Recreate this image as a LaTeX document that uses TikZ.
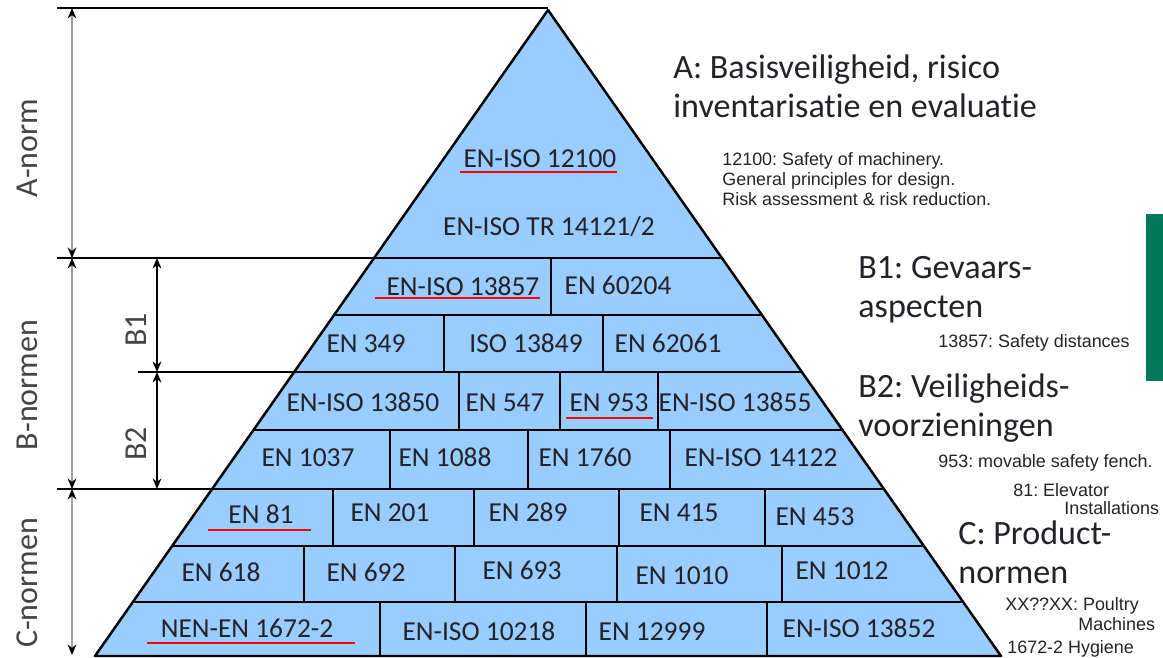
\documentclass[tikz,border=0pt]{standalone}
\usepackage{fontspec}
\setmainfont{Carlito}[Ligatures=NoCommon]
\newfontfamily\notefont{Liberation Sans}
\usetikzlibrary{positioning,arrows.meta}
\frenchspacing

\definecolor{pyrblue}{RGB}{153,204,255}
\definecolor{bargreen}{RGB}{0,120,90}
\definecolor{txt}{RGB}{34,34,40}

\begin{document}
\begin{tikzpicture}[x=0.02cm,y=-0.02cm,
    cell/.style={font=\fontsize{15.6}{18}\selectfont,text=txt,inner sep=0pt,
                 text height=9.9pt,text depth=0pt},
    head/.style={font=\fontsize{19.4}{22}\selectfont,text=txt,inner sep=0pt,anchor=base west},
    note/.style={font=\notefont\fontsize{10.2}{12}\selectfont,text=txt,inner sep=0pt,anchor=base west},
    side/.style={font=\fontsize{18.2}{20}\selectfont,text=txt!85,inner sep=0pt,rotate=90,
                 text height=11.5pt,text depth=0pt},
    rule/.style={line width=0.85pt},
    uline/.style={red,line width=1.3pt},
    dim/.style={<->,>={Stealth[length=6pt,width=5pt]},line width=0.8pt},
    dimg/.style={dim,draw=gray!75,>={Stealth[length=6pt,width=5pt,color=black]}}]
    \useasboundingbox (0,0) rectangle (1163,658);

    % pyramid body
    \fill[pyrblue] (548,10) -- (1001,656) -- (95,656) -- cycle;
    \foreach \y in {315,430,546,602}
        \draw[rule] ({548-0.701*(\y-10)},\y) -- ({548+0.701*(\y-10)},\y);
    \foreach \y/\xa in {258/57,372/138,489/57}
        \draw[rule] (\xa,\y) -- ({548+0.701*(\y-10)},\y);
    \draw[rule] (57,8) -- (548,8);
    \foreach \x/\ya/\yb in {551/258/315, 444/315/372, 603/315/372,
                            459/372/430, 560/372/430, 658/372/430,
                            390/430/489, 528/430/489, 670/430/489,
                            333/489/546, 474/489/546, 619/489/546, 765/489/546,
                            304/546/602, 455/546/602, 617/546/602, 782/546/602,
                            380/602/656, 586/602/656, 767/602/656}
        \draw[rule] (\x,\ya) -- (\x,\yb);
    \draw[line width=1.4pt,line join=round] (95,656) -- (548,10) -- (1001,656) -- cycle;

    % A
    \node[cell] (n_12100) at (540,159) {EN-ISO 12100};
    \node[cell] (n_14121) at (549,227) {EN-ISO TR 14121/2};
    % B1
    \node[cell] (n_13857) at (463,287) {EN-ISO 13857};
    \node[cell] (n_60204) at (618,286) {EN 60204};
    \node[cell] (n_349)   at (366,344) {EN 349};
    \node[cell] (n_13849) at (526,344) {ISO 13849};
    \node[cell] (n_62061) at (668,344) {EN 62061};
    % B2
    \node[cell] (n_13850) at (363,403) {EN-ISO 13850};
    \node[cell] (n_547)   at (505,403) {EN 547};
    \node[cell] (n_953)   at (609,403) {EN 953};
    \node[cell] (n_13855) at (735,403) {EN-ISO 13855};
    \node[cell] (n_1037)  at (308,458) {EN 1037};
    \node[cell] (n_1088)  at (445,458) {EN 1088};
    \node[cell] (n_1760)  at (585,458) {EN 1760};
    \node[cell] (n_14122) at (761,458) {EN-ISO 14122};
    % C
    \node[cell] (n_81)    at (261,515) {EN 81};
    \node[cell] (n_201)   at (390,513) {EN 201};
    \node[cell] (n_289)   at (528,513) {EN 289};
    \node[cell] (n_415)   at (679,513) {EN 415};
    \node[cell] (n_453)   at (815,517) {EN 453};
    \node[cell] (n_618)   at (221,573) {EN 618};
    \node[cell] (n_692)   at (366,573) {EN 692};
    \node[cell] (n_693)   at (522,571) {EN 693};
    \node[cell] (n_1010)  at (682,576) {EN 1010};
    \node[cell] (n_1012)  at (842,571) {EN 1012};
    \node[cell] (n_1672)  at (247,629) {NEN-EN 1672-2};
    \node[cell] (n_10218) at (479,632) {EN-ISO 10218};
    \node[cell] (n_12999) at (652,632) {EN 12999};
    \node[cell] (n_13852) at (859,629) {EN-ISO 13852};

    % red underlines
    \draw[uline] (460,172) -- (617,172);
    \draw[uline] (375,298) -- (540,298);
    \draw[uline] (566,418) -- (653,418);
    \draw[uline] (208,530) -- (311,530);
    \draw[uline] (147,643) -- (355,643);

    % dimension arrows
    \coordinate (d_0) at (72,8);
    \coordinate (d_1) at (72,258);
    \coordinate (d_2) at (72,489);
    \coordinate (d_3) at (72,655);
    \coordinate (e_0) at (157,258);
    \coordinate (e_1) at (157,372);
    \coordinate (e_2) at (157,489);
    \draw[dimg] (d_0) -- (d_1);
    \draw[dimg] (d_1) -- (d_2);
    \draw[dimg] (d_2) -- (d_3);
    \draw[dim] (e_0) -- (e_1);
    \draw[dim] (e_1) -- (e_2);
    \node[side] (l_a)  at (27,148) {A-norm};
    \node[side] (l_b)  at (27,385) {B-normen};
    \node[side] (l_c)  at (27,583) {C-normen};
    \node[side] (l_b1) at (136,330) {B1};
    \node[side] (l_b2) at (136,444) {B2};

    % explanations on the right
    \node[head] (h_a1) at (673,79)  {A: Basisveiligheid, risico};
    \node[head] (h_a2) at (673,118) {inventarisatie en evaluatie};
    \node[note] (t_a1) at (722,166) {12100: Safety of machinery.};
    \node[note] (t_a2) at (722,186) {General principles for design.};
    \node[note] (t_a3) at (722,206) {Risk assessment \& risk reduction.};
    \node[head] (h_b1) at (858,279) {B1: Gevaars-};
    \node[head] (h_b2) at (858,318) {aspecten};
    \node[note] (t_b1) at (938,348) {13857: Safety distances};
    \node[head] (h_b3) at (858,398) {B2: Veiligheids-};
    \node[head] (h_b4) at (858,437) {voorzieningen};
    \node[note] (t_b2) at (938,467) {953: movable safety fench.};
    \node[note] (t_c1) at (1013,496) {81: Elevator};
    \node[note] (t_c2) at (1064,514) {Installations};
    \node[head] (h_c1) at (958,544) {C: Product-};
    \node[head] (h_c2) at (958,583) {normen};
    \node[note] (t_c3) at (1005,610) {XX??XX: Poultry};
    \node[note] (t_c4) at (1078,630) {Machines};
    \node[note] (t_c5) at (1007,653) {1672-2 Hygiene};

    \fill[bargreen] (1146,214) rectangle (1163,381);
\end{tikzpicture}
\end{document}
